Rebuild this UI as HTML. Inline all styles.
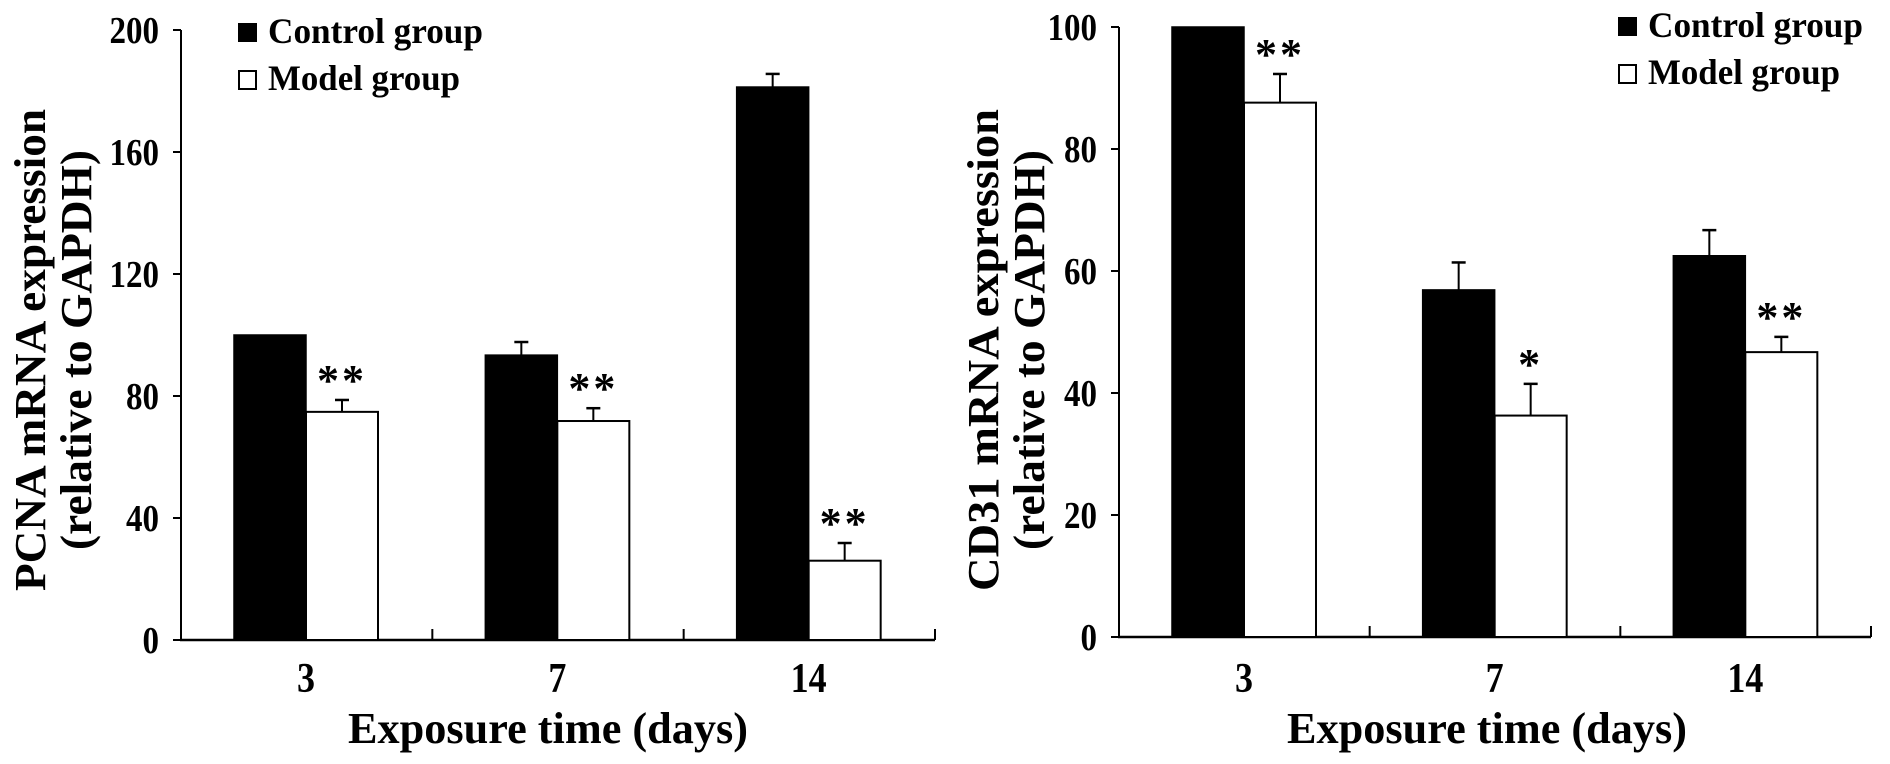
<!DOCTYPE html>
<html><head><meta charset="utf-8"><style>
html,body{margin:0;padding:0;background:#fff;}
svg{display:block;font-family:"Liberation Serif",serif;font-weight:bold;}
</style></head><body>
<svg id="fig" width="1890" height="764" viewBox="0 0 1890 764"></svg>
<script>
const categories = ["3","7","14"];
const pcnaControl = [100, 93.4, 181.3];
const pcnaControlErr = [0, 4.3, 4.3];
const pcnaModel = [74.8, 71.8, 26];
const pcnaModelErr = [3.9, 4.2, 5.8];
const pcnaStars = ["**","**","**"];
const pcnaTicks = [0,40,80,120,160,200];
const cd31Control = [100, 56.9, 62.5];
const cd31ControlErr = [0, 4.5, 4.2];
const cd31Model = [87.6, 36.3, 46.7];
const cd31ModelErr = [4.7, 5.2, 2.5];
const cd31Stars = ["**","*","**"];
const cd31Ticks = [0,20,40,60,80,100];

const NS="http://www.w3.org/2000/svg";
const svg=document.getElementById('fig');
function mk(tag,attrs,parent,txt){const e=document.createElementNS(NS,tag);for(const k in attrs)e.setAttribute(k,attrs[k]);if(txt!==undefined)e.textContent=txt;(parent||svg).appendChild(e);return e;}

function chart(o){
  const g=mk('g',{});
  
  
  const y=v=>o.y0-(v/o.max)*(o.y0-o.yTop);
  const catW=(o.xEnd-o.x0)/categories.length;
  const ya=mk('line',{x1:o.x0,y1:o.yTop,x2:o.x0,y2:o.y0,stroke:'#000','stroke-width':2},g);
  
  
  const xa=mk('line',{x1:o.x0-1,y1:o.y0,x2:o.xEnd,y2:o.y0,stroke:'#000','stroke-width':2.5},g);
  
  
  o.ticks.forEach(t=>{
    mk('line',{x1:o.x0-8,y1:y(t),x2:o.x0,y2:y(t),stroke:'#000','stroke-width':2},g);
    const tl=mk('text',{x:o.x0-22,y:y(t)+13,'text-anchor':'end','font-size':38,textLength:String(t).length*16.5,lengthAdjust:'spacingAndGlyphs'},g,String(t));
    
    
  });
  categories.forEach((c,i)=>{
    const xr=o.x0+catW*(i+1);
    mk('line',{x1:xr,y1:o.y0,x2:xr,y2:o.y0-11,stroke:'#000','stroke-width':2},g);
    const bx=o.x0+catW*i+o.off;
    const cv=o.ctrl[i], mv=o.model[i];
    const b1=mk('rect',{x:bx,y:y(cv),width:o.bw,height:o.y0-y(cv),fill:'#000',stroke:'#000','stroke-width':1.5},g);
    
    
    const b2=mk('rect',{x:bx+o.bw,y:y(mv),width:o.bw,height:o.y0-y(mv),fill:'#fff',stroke:'#000','stroke-width':2},g);
    
    
    [[cv,o.ctrlErr[i],bx+o.bw/2],[mv,o.modelErr[i],bx+o.bw*1.5]].forEach(([v,e,cx])=>{
      if(e>0){
        mk('line',{x1:cx,y1:y(v),x2:cx,y2:y(v+e),stroke:'#000','stroke-width':2},g);
        mk('line',{x1:cx-7,y1:y(v+e),x2:cx+7,y2:y(v+e),stroke:'#000','stroke-width':2.5},g);
      }
    });
    const st=mk('text',{x:bx+o.bw*1.5,y:y(mv+o.modelErr[i])-5,'text-anchor':'middle','font-size':44,'letter-spacing':3},g,o.stars[i]);
    
    
    const xl=mk('text',{x:bx+o.bw,y:692,'text-anchor':'middle','font-size':42,textLength:c.length*18,lengthAdjust:'spacingAndGlyphs'},g,c);
    
    
  });
  const xt=mk('text',{x:o.xTitleX,y:743,'text-anchor':'middle','font-size':44,textLength:400,lengthAdjust:'spacingAndGlyphs'},g,'Exposure time (days)');
  
  
  const yt=mk('text',{transform:`translate(${o.yTitleX},350) rotate(-90)`,'text-anchor':'middle','font-size':44,textLength:482,lengthAdjust:'spacingAndGlyphs'},g,o.yTitle1);
  
  
  const yt2=mk('text',{transform:`translate(${o.yTitleX+46},350) rotate(-90)`,'text-anchor':'middle','font-size':44,textLength:400,lengthAdjust:'spacingAndGlyphs'},g,'(relative to GAPDH)');
  
  
  const lg=mk('g',{},g);
  
  
  mk('rect',{x:o.lx,y:o.ly,width:19,height:19,fill:'#000'},lg);
  const l1=mk('text',{x:o.lx+30,y:o.ly+20,'font-size':36,textLength:215,lengthAdjust:'spacingAndGlyphs'},lg,'Control group');
  
  
  mk('rect',{x:o.lx+1,y:o.ly+48,width:17,height:18,fill:'#fff',stroke:'#000','stroke-width':2},lg);
  const l2=mk('text',{x:o.lx+30,y:o.ly+67,'font-size':36,textLength:192,lengthAdjust:'spacingAndGlyphs'},lg,'Model group');
  
  
}

chart({name:'pcna-chart',x0:181,xEnd:935,yTop:30,y0:640,max:200,off:53,bw:72,
  ctrl:pcnaControl,ctrlErr:pcnaControlErr,model:pcnaModel,modelErr:pcnaModelErr,stars:pcnaStars,ticks:pcnaTicks,
  xTitleX:548,yTitleX:45,yTitle1:'PCNA mRNA expression',lx:238,ly:23});
chart({name:'cd31-chart',x0:1119,xEnd:1871,yTop:27,y0:637,max:100,off:53,bw:72,
  ctrl:cd31Control,ctrlErr:cd31ControlErr,model:cd31Model,modelErr:cd31ModelErr,stars:cd31Stars,ticks:cd31Ticks,
  xTitleX:1487,yTitleX:998,yTitle1:'CD31 mRNA expression',lx:1618,ly:17});
</script>
</body></html>
